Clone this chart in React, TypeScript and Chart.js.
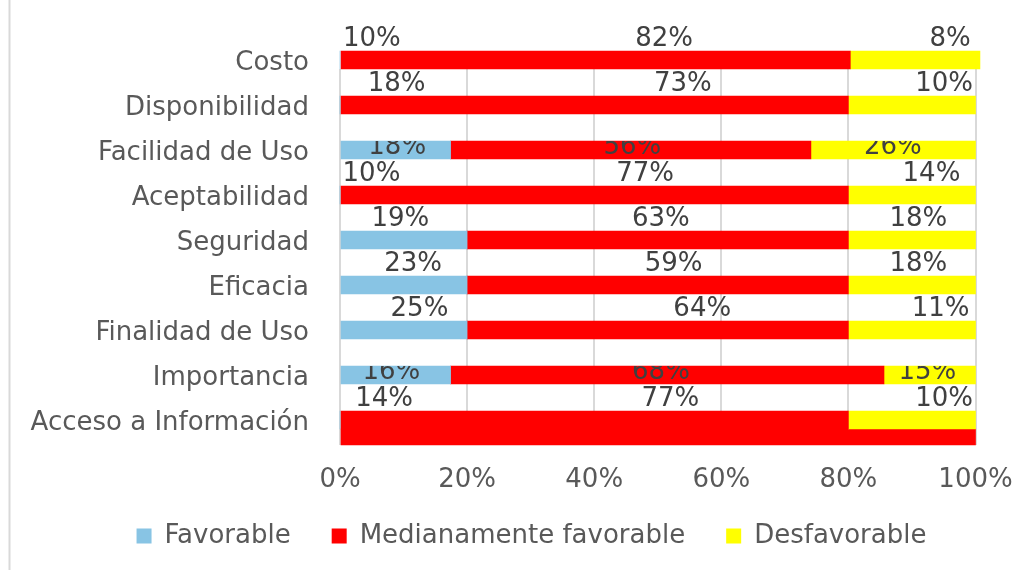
import React, { useEffect, useRef } from 'react';
import { Chart, registerables } from 'chart.js';

Chart.register(...registerables);

// ---------- data ----------
const categories = [
  'Costo',
  'Disponibilidad',
  'Facilidad de Uso',
  'Aceptabilidad',
  'Seguridad',
  'Eficacia',
  'Finalidad de Uso',
  'Importancia',
  'Acceso a Información',
];
const seriesNames = ['Favorable', 'Medianamente favorable', 'Desfavorable'];

// percentages printed on the chart
const favorableLabels = [10, 18, 18, 10, 19, 23, 25, 16, 14];
const medianamenteLabels = [82, 73, 56, 77, 63, 59, 64, 68, 77];
const desfavorableLabels = [8, 10, 26, 14, 18, 18, 11, 15, 10];

// bar segment lengths as they are drawn in the picture
const favorableBars = [0, 0, 17.4, 0, 20, 20, 20, 17.4, 0];
const medianamenteBars = [80.3, 80, 56.7, 80, 60, 60, 60, 68.2, 80];
const desfavorableBars = [20.4, 20, 25.9, 20, 20, 20, 20, 14.4, 20];
// extra red strip drawn under "Acceso a Información"
const accesoLowerStrip = [100];

const xTicks = [0, 20, 40, 60, 80, 100];

// ---------- styles ----------
const BLUE = '#88C4E4';
const RED = '#FF0000';
const YELLOW = '#FFFF00';
const FONT_FAMILY = '"DejaVu Sans", Verdana, sans-serif';
const AXIS_COLOR = '#595959';
const LABEL_COLOR = '#404040';
const GRID_COLOR = '#d9d9d9';
const INSIDE_ROWS = ['Facilidad de Uso', 'Importancia'];
const LOWER_STRIP_OFFSET = 17 / 45;
const LEGEND_SHIFT_X = 33.75;
const LEGEND_SHIFT_Y = -16;

const maskPlugin = {
  id: 'topMask',
  beforeDatasetsDraw(chart: any) {
    const { ctx, chartArea } = chart;
    const el = chart.getDatasetMeta(1).data[0];
    if (!el) return;
    const bottom = el.y + el.height / 2;
    ctx.save();
    ctx.fillStyle = '#ffffff';
    ctx.fillRect(
      chartArea.left - 3,
      chartArea.top - 2,
      chartArea.right - chartArea.left + 6,
      bottom - chartArea.top + 2
    );
    ctx.restore();
  },
};

const borderPlugin = {
  id: 'frame',
  beforeDraw(chart: any) {
    const { ctx } = chart;
    ctx.save();
    ctx.strokeStyle = GRID_COLOR;
    ctx.lineWidth = 2;
    ctx.beginPath();
    ctx.moveTo(9.5, 0);
    ctx.lineTo(9.5, chart.height);
    ctx.stroke();
    ctx.restore();
  },
};

const legendShiftPlugin = {
  id: 'legendShift',
  afterLayout(chart: any) {
    const lg = chart.legend;
    if (!lg) return;
    lg.left += LEGEND_SHIFT_X;
    lg.right += LEGEND_SHIFT_X;
    lg.top += LEGEND_SHIFT_Y;
    lg.bottom += LEGEND_SHIFT_Y;
  },
};

const labelPlugin = {
  id: 'segmentLabels',
  afterDatasetsDraw(chart: any) {
    const { ctx } = chart;
    const xs = chart.scales.x;
    const meta = chart.getDatasetMeta(1);
    ctx.save();
    ctx.font = `26px ${FONT_FAMILY}`;
    ctx.fillStyle = LABEL_COLOR;
    ctx.textAlign = 'center';
    ctx.textBaseline = 'alphabetic';
    categories.forEach((cat, i) => {
      const vals = [favorableLabels[i], medianamenteLabels[i], desfavorableLabels[i]];
      const total = vals.reduce((a, b) => a + b, 0);
      const el = meta.data[i];
      const cy = el.y;
      const half = el.height / 2;
      const inside = INSIDE_ROWS.includes(cat);
      const baseline = inside ? cy + 3.5 : cy - 14;
      ctx.save();
      if (inside) {
        ctx.beginPath();
        ctx.rect(0, cy - half, chart.width, chart.height);
        ctx.clip();
      }
      let cum = 0;
      vals.forEach((v) => {
        const mid = ((cum + v / 2) / total) * 100;
        ctx.fillText(`${v}%`, xs.getPixelForValue(mid), baseline);
        cum += v;
      });
      ctx.restore();
    });
    ctx.restore();
  },
};

export default function App() {
  const canvasRef = useRef<HTMLCanvasElement | null>(null);

  useEffect(() => {
    if (!canvasRef.current) return;
    const font = { family: FONT_FAMILY, size: 26 };
    const mk = (arr: number[]) => arr.map((v, i) => ({ x: v, y: i }));
    const chart = new Chart(canvasRef.current, {
      type: 'bar',
      data: {
        datasets: [
          { label: seriesNames[0], data: mk(favorableBars), backgroundColor: BLUE, stack: 'a', barThickness: 18, clip: false },
          { label: seriesNames[1], data: mk(medianamenteBars), backgroundColor: RED, stack: 'a', barThickness: 18, clip: false },
          { label: seriesNames[2], data: mk(desfavorableBars), backgroundColor: YELLOW, stack: 'a', barThickness: 18, clip: false },
          {
            label: 'strip',
            data: accesoLowerStrip.map((v) => ({ x: v, y: categories.length - 1 + LOWER_STRIP_OFFSET })),
            backgroundColor: RED,
            stack: 'a',
            barThickness: 16,
            clip: false,
          },
        ] as any,
      },
      options: {
        indexAxis: 'y',
        animation: false,
        responsive: true,
        maintainAspectRatio: false,
        events: [],
        layout: { padding: { left: 20, right: 57.5, top: 39, bottom: 0 } },
        scales: {
          x: {
            type: 'linear',
            stacked: true,
            min: 0,
            max: 100,
            offset: false,
            afterBuildTicks: (s: any) => {
              s.ticks = xTicks.map((v) => ({ value: v }));
            },
            ticks: {
              callback: (v: any) => `${v}%`,
              color: AXIS_COLOR,
              font,
              padding: 20,
              maxRotation: 0,
            },
            grid: { color: GRID_COLOR, lineWidth: 2, drawTicks: false, offset: false },
            border: { display: false },
            afterFit: (s: any) => {
              s.height = 53;
            },
          },
          y: {
            type: 'linear',
            reverse: true,
            offset: false,
            min: -21 / 45,
            max: categories.length - 1 + 25 / 45,
            afterBuildTicks: (s: any) => {
              s.ticks = categories.map((_, i) => ({ value: i }));
            },
            ticks: {
              callback: (v: any) => categories[v] ?? '',
              color: AXIS_COLOR,
              font,
              padding: 23,
              labelOffset: 3,
              autoSkip: false,
            },
            grid: { display: false, offset: false },
            border: { display: false },
            afterFit: (s: any) => {
              s.width = 340 - 20;
            },
          },
        },
        plugins: {
          legend: {
            position: 'bottom',
            maxHeight: 72,
            labels: {
              boxWidth: 15,
              boxHeight: 15,
              padding: 41,
              color: AXIS_COLOR,
              font,
              filter: (item: any) => item.datasetIndex < 3,
            },
          },
          tooltip: { enabled: false },
        },
      } as any,
      plugins: [borderPlugin, maskPlugin, legendShiftPlugin, labelPlugin],
    });
    return () => chart.destroy();
  }, []);

  return (
    <div style={{ position: 'absolute', left: 0, top: 0, width: 1033, height: 570, background: '#fff' }}>
      <canvas ref={canvasRef} />
    </div>
  );
}
